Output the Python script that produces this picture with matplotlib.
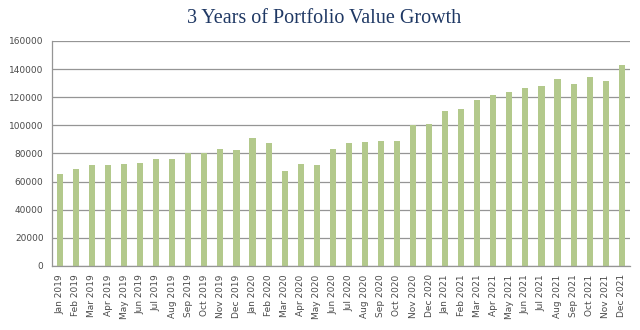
import matplotlib.pyplot as plt

meses = ['Jan', 'Feb', 'Mar', 'Apr', 'May', 'Jun', 'Jul', 'Aug', 'Sep', 'Oct', 'Nov', 'Dec']
anos = [2019, 2020, 2021]
rotulos = [m + ' ' + str(a) for a in anos for m in meses]

valores_2019 = [65500, 68800, 71900, 72000, 72600, 73500, 75900, 76400, 80200, 80200, 83300, 82800]
valores_2020 = [91100, 87300, 67800, 72600, 72000, 83300, 87300, 87800, 88500, 88500, 99900, 100800]
valores_2021 = [110100, 111700, 118100, 121500, 123800, 126700, 128300, 132800, 129500, 134000, 131700, 143000]
valores = valores_2019 + valores_2020 + valores_2021

fig = plt.figure(figsize=(6.4, 3.3), dpi=100)
ax = fig.add_axes([0.081, 0.194, 0.903, 0.682])

posicoes = range(len(valores))
ax.bar(posicoes, valores, width=0.38, color='#b3c98c', zorder=2)

ax.set_xlim(-0.5, len(valores) - 0.5)
ax.set_ylim(0, 160000)
ax.set_yticks(range(0, 160001, 20000))
ax.set_xticks(list(posicoes))
ax.set_xticklabels(rotulos, rotation=90, fontsize=6.5, color='#4a4a4a')
ax.tick_params(axis='y', labelsize=6.5, labelcolor='#4a4a4a')
ax.tick_params(length=0, pad=6)

ax.grid(axis='y', color='#959595', linewidth=0.9, zorder=0)
for lado in ['top', 'right']:
    ax.spines[lado].set_visible(False)
for lado in ['left', 'bottom']:
    ax.spines[lado].set_color('#959595')
    ax.spines[lado].set_linewidth(0.9)

fig.text(0.507, 0.945, '3 Years of Portfolio Value Growth', ha='center', va='center',
         fontsize=14.5, family='Liberation Serif', color='#1f3864')

fig.savefig('out.png', dpi=100)
